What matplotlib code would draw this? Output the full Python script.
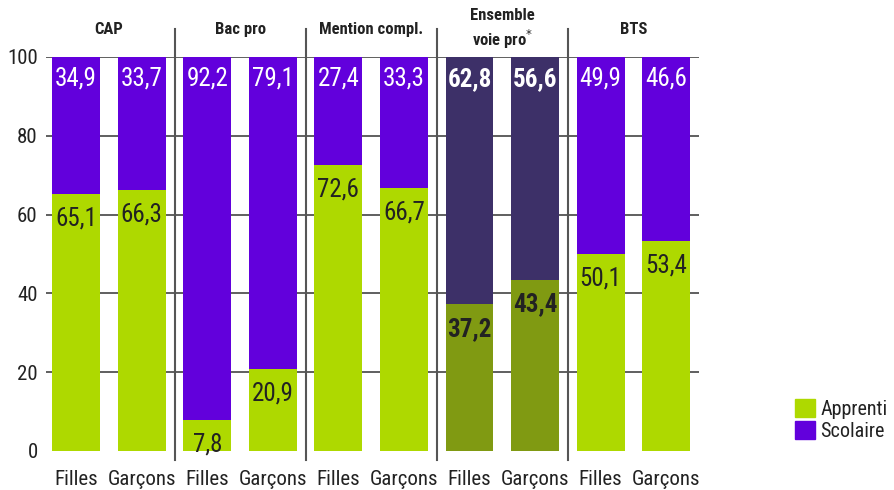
import matplotlib
matplotlib.use("Agg")
import matplotlib.pyplot as plt
from matplotlib.patches import Patch

plt.rcParams['font.family'] = ['Roboto Condensed', 'DejaVu Sans']

# Données
groupes = ["CAP", "Bac pro", "Mention compl.", "Ensemble\nvoie pro$^{*}$", "BTS"]
sexes = ["Filles", "Garçons"]
apprenti = [65.1, 66.3, 7.8, 20.9, 72.6, 66.7, 37.2, 43.4, 50.1, 53.4]
scolaire = [34.9, 33.7, 92.2, 79.1, 27.4, 33.3, 62.8, 56.6, 49.9, 46.6]
etiquettes_x = sexes * len(groupes)

vert = "#aed900"
violet = "#6200dc"
vert_fonce = "#809a12"
violet_fonce = "#3d3068"
texte = "#222222"

fig = plt.figure(figsize=(8.95, 4.9), dpi=100)
ax = fig.add_axes([0.0514, 0.0796, 0.7296, 0.8041])

x = list(range(len(apprenti)))
col_a = [vert_fonce if 6 <= i <= 7 else vert for i in x]
col_s = [violet_fonce if 6 <= i <= 7 else violet for i in x]

ax.bar(x, apprenti, width=0.73, color=col_a, zorder=2)
ax.bar(x, scolaire, width=0.73, bottom=apprenti, color=col_s, zorder=2)

# valeurs
for i in x:
    poids = "bold" if 6 <= i <= 7 else "normal"
    ax.annotate(f"{scolaire[i]:.1f}".replace(".", ","), (i, 100), xytext=(0, -7),
                textcoords="offset points", ha="center", va="top",
                color="white", fontsize=18, fontweight=poids, zorder=3)
    ax.annotate(f"{apprenti[i]:.1f}".replace(".", ","), (i, apprenti[i]), xytext=(0, -9),
                textcoords="offset points", ha="center", va="top",
                color=texte, fontsize=18, fontweight=poids, zorder=3)

# séparateurs et titres de groupes
for g in range(len(groupes)):
    if g > 0:
        ax.plot([2 * g - 0.5, 2 * g - 0.5], [-2.3, 107], color="#555555", lw=1.5,
                clip_on=False, zorder=4)
    ax.text(2 * g + 0.5, 107.0, groupes[g], ha="center", va="center", fontsize=12,
            fontweight="bold", color=texte, linespacing=1.3)

ax.set_xlim(-0.46, 9.5)
ax.set_ylim(0, 100)
ax.set_yticks([0, 20, 40, 60, 80, 100])
ax.set_xticks(x)
ax.set_xticklabels(etiquettes_x, fontsize=15, color=texte)
ax.tick_params(axis="x", length=0, pad=14)
ax.tick_params(axis="y", length=0, pad=6, labelsize=15, labelcolor=texte)
for s in ax.spines.values():
    s.set_visible(False)
ax.yaxis.grid(True, color="#444444", lw=1.2, zorder=0)
ax.get_ygridlines()[0].set_visible(False)
ax.set_axisbelow(True)

handles = [Patch(color=vert, label="Apprenti"), Patch(color=violet, label="Scolaire")]
fig.legend(handles=handles, loc="lower left", bbox_to_anchor=(0.877, 0.08),
           frameon=False, fontsize=14.5, handlelength=1.0, handleheight=1.0,
           handletextpad=0.25, labelspacing=0.1, borderpad=0, labelcolor=texte)

fig.savefig("out.png", dpi=100)
